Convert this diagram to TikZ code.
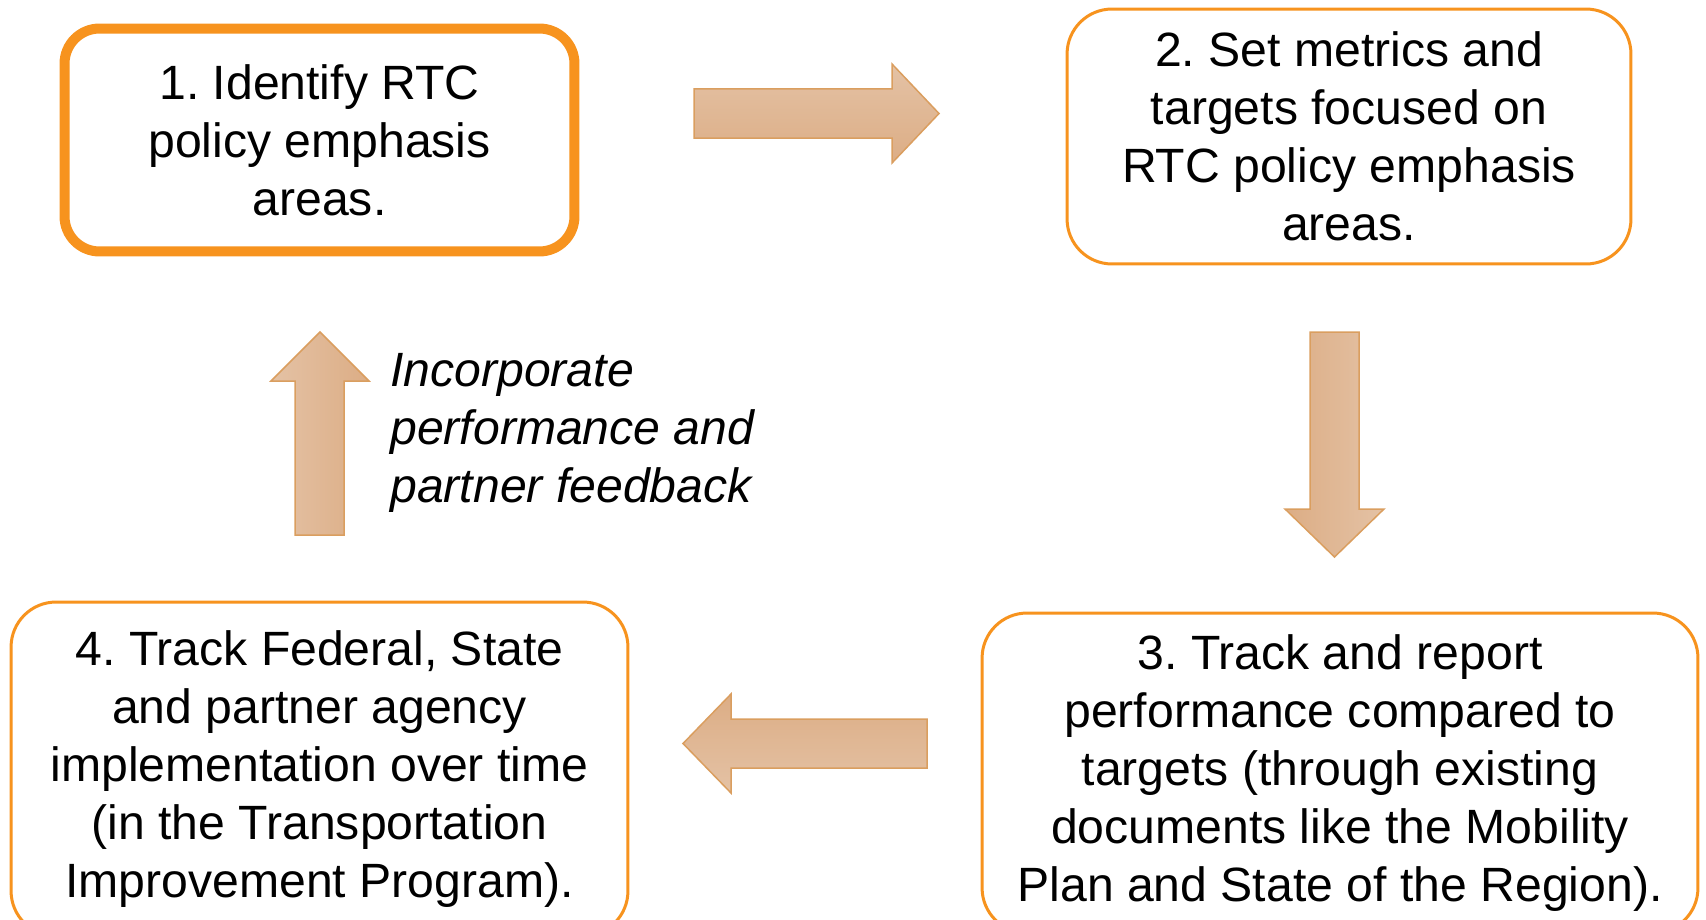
\documentclass[tikz,border=0pt]{standalone}
\usepackage{fontspec}
\setmainfont{Liberation Sans}
\usetikzlibrary{positioning}

\definecolor{boxorange}{RGB}{247,147,30}
\definecolor{arrowedge}{RGB}{218,158,95}
\definecolor{arrowlight}{RGB}{228,194,165}
\definecolor{arrowdark}{RGB}{220,173,133}

\tikzset{
  stepbox/.style={draw=boxorange,line width=0.06cm,rounded corners=0.9cm,fill=white,
    align=center,inner sep=0pt,font=\fontsize{27.4}{33}\selectfont},
  blockarrow/.style={draw=arrowedge,line width=0.03cm,line join=miter}
}

\begin{document}
\frenchspacing
\begin{tikzpicture}[x=0.02cm,y=-0.02cm]
  \useasboundingbox (0,0) rectangle (1706,919);
  \clip (0,0) rectangle (1706,919);

  % Steps
  \node[stepbox,line width=0.2cm,rounded corners=0.7cm,minimum width=10.2cm,minimum height=4.46cm]
    (identify) at (319.5,140) {1. Identify RTC\\policy emphasis\\areas.};
  \node[stepbox,minimum width=11.28cm,minimum height=5.1cm]
    (metrics) at (1349,136.5) {2. Set metrics and\\targets focused on\\RTC policy emphasis\\areas.};
  \node[stepbox,minimum width=14.32cm,minimum height=6.4cm]
    (report) at (1340,773) {3. Track and report\\performance compared to\\targets (through existing\\documents like the Mobility\\Plan and State of the Region).};
  \node[stepbox,minimum width=12.34cm,minimum height=6.68cm]
    (track) at (319.5,769) {4. Track Federal, State\\and partner agency\\implementation over time\\(in the Transportation\\Improvement Program).};

  % Block arrows between the steps
  \draw[blockarrow,top color=arrowlight,bottom color=arrowdark]
    (694,89) -- (892,89) -- (892,64) -- (939,113.5) -- (892,163) -- (892,138) -- (694,138) -- cycle;
  \draw[blockarrow,left color=arrowdark,right color=arrowlight]
    (1310,332) -- (1359,332) -- (1359,509) -- (1384,509) -- (1334.5,557) -- (1285,509) -- (1310,509) -- cycle;
  \draw[blockarrow,top color=arrowdark,bottom color=arrowlight]
    (927,719) -- (927,768) -- (731,768) -- (731,793) -- (683,743.5) -- (731,694) -- (731,719) -- cycle;
  \draw[blockarrow,left color=arrowlight,right color=arrowdark]
    (344,535) -- (295,535) -- (295,381) -- (271,381) -- (320,332) -- (369,381) -- (344,381) -- cycle;

  % Feedback label
  \node[anchor=west,align=left,inner sep=0pt,font=\fontsize{27.4}{33}\selectfont\itshape]
    (feedback) at (390,433) {Incorporate\\performance and\\partner feedback};
\end{tikzpicture}
\end{document}
